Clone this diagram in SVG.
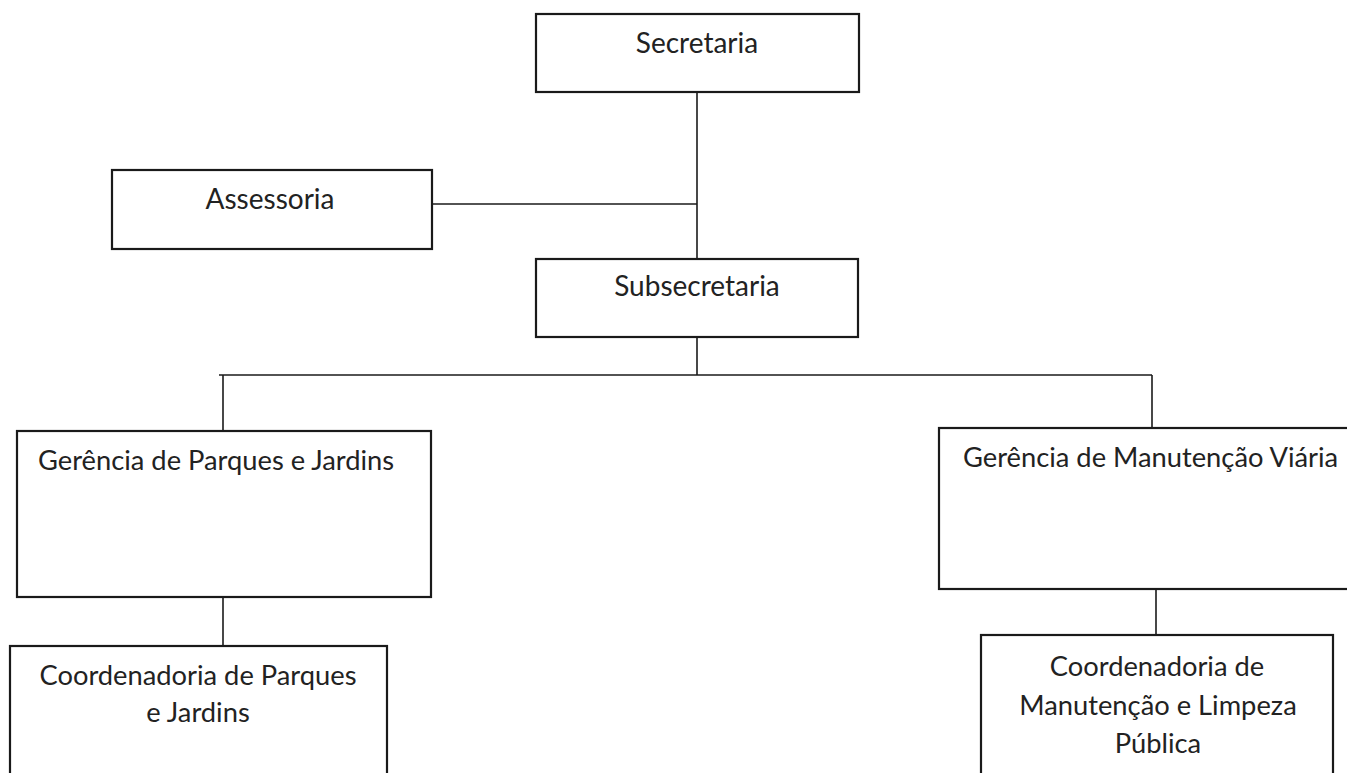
<svg xmlns="http://www.w3.org/2000/svg" width="1347" height="773" viewBox="0 0 1347 773">
<style>
.box{fill:#fff;stroke:#1a1a1a;stroke-width:2.2}
.t{font-family:Lato,"Open Sans",sans-serif;font-size:28px;fill:#222}
.s{font-size:27.3px}
.c{text-anchor:middle}
.ln{fill:none;stroke:#1a1a1a;stroke-width:1.6}
</style>
<rect width="1347" height="773" fill="#fff"/>
<g id="connectors">
<path class="ln" d="M697 92V259"/>
<path class="ln" d="M432 204H697"/>
<path class="ln" d="M697 337V375"/>
<path class="ln" d="M219 375H1152"/>
<path class="ln" d="M223 375V431"/>
<path class="ln" d="M1152 375V428"/>
<path class="ln" d="M223 597V646"/>
<path class="ln" d="M1156 589V635"/>
</g>
<g id="secretaria">
<rect class="box" x="536" y="14" width="323" height="78"/>
<text class="t c" x="697" y="53">Secretaria</text>
</g>
<g id="assessoria">
<rect class="box" x="112" y="170" width="320" height="79"/>
<text class="t c" x="270" y="209">Assessoria</text>
</g>
<g id="subsecretaria">
<rect class="box" x="536" y="259" width="322" height="78"/>
<text class="t c" x="697" y="296">Subsecretaria</text>
</g>
<g id="gerencia-parques">
<rect class="box" x="17" y="431" width="414" height="166"/>
<text class="t s" x="38" y="470">Gerência de Parques e Jardins</text>
</g>
<g id="gerencia-manutencao">
<rect class="box" x="939" y="428" width="420" height="161"/>
<text class="t s" x="963" y="467">Gerência de Manutenção Viária</text>
</g>
<g id="coord-parques">
<rect class="box" x="10" y="646" width="377" height="140"/>
<text class="t s c" x="198" y="685">Coordenadoria de Parques</text>
<text class="t s c" x="198" y="722">e Jardins</text>
</g>
<g id="coord-manutencao">
<rect class="box" x="981" y="635" width="352" height="150"/>
<text class="t s c" x="1157" y="676">Coordenadoria de</text>
<text class="t s c" x="1158" y="715">Manutenção e Limpeza</text>
<text class="t s c" x="1158" y="753">Pública</text>
</g>
</svg>
